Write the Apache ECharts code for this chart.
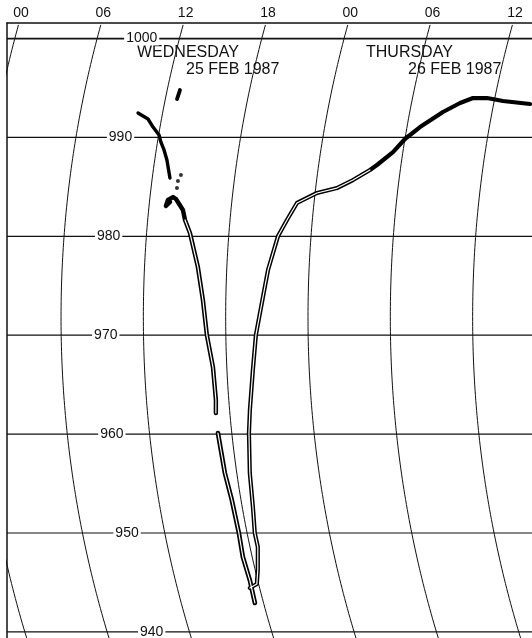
<!DOCTYPE html>
<html>
<head>
<meta charset="utf-8">
<title>Barograph 25-26 Feb 1987</title>
<script src="https://cdn.jsdelivr.net/npm/echarts@6/dist/echarts.min.js"></script>
<style>
html, body { margin: 0; padding: 0; background: #fff; }
#chart { width: 532px; height: 638px; }
</style>
</head>
<body>
<div id="chart"></div>
<script>
// hours counted from 00 on Wednesday 25 Feb 1987
const hourTicks = [0, 6, 12, 18, 24, 30, 36]
const hourLabels = ['00', '06', '12', '18', '00', '06', '12']
const isobars = [1000, 990, 980, 970, 960, 950, 940]

const traceStart = [[10.21, 992.47], [11.02, 991.86], [11.49, 991.05], [12.03, 990.24], [12.25, 989.53],
    [12.57, 988.73], [12.89, 987.71], [13.29, 985.89]]
const traceBlip = [[12.93, 994.79], [12.85, 993.88]]
const traceDots = [[14.06, 986.2], [13.9, 985.59], [13.89, 984.88]]
const traceFall = [[13.5, 983.47], [13.23, 983.06], [13.33, 983.67], [13.68, 983.97], [13.91, 983.77],
    [14.5, 982.66], [14.72, 981.65], [15.16, 980.33], [15.89, 976.89], [16.33, 973.56], [16.62, 970.0],
    [16.99, 966.78], [17.06, 963.45], [16.98, 962.14]]
const traceFallLow = [[16.99, 960.11], [17.13, 956.07], [17.33, 953.34], [17.4, 950.0], [17.32, 947.57],
    [17.43, 945.24], [17.37, 942.92]]
const traceRise = [[17.29, 944.43], [17.87, 944.84], [18.19, 946.26], [18.57, 948.58], [18.56, 950.0],
    [18.78, 952.63], [18.95, 956.07], [19.25, 960.11], [19.48, 962.44], [19.89, 966.48], [20.19, 970.0],
    [20.63, 973.26], [21.01, 976.59], [21.59, 980.0], [22.15, 981.65], [22.76, 983.37], [24.14, 984.38],
    [25.55, 984.88], [26.65, 985.69], [27.79, 986.7], [28.25, 987.21], [29.28, 988.52], [30.0, 989.84],
    [30.95, 991.05], [32.42, 992.57], [33.54, 993.48], [34.41, 993.98], [35.43, 993.98], [36.64, 993.68],
    [38.65, 993.38]]

// card geometry
const PX_PER_HOUR = 13.72
const PX_PER_HPA = 9.89
const PEN_ARM = 1096
const ARM_PIVOT_HPA = 971.8
const TOP_HPA = 1001.57
const BOTTOM_HPA = 939.38
const FIRST_HOUR = -0.875
const LAST_HOUR = 37.39
const LABEL_HOUR = 9.25
const FONT = '"Liberation Sans", Arial, Helvetica, sans-serif'

function bow(hpa) {
    const dy = (hpa - ARM_PIVOT_HPA) * PX_PER_HPA
    return PEN_ARM - Math.sqrt(PEN_ARM * PEN_ARM - dy * dy)
}
// time lines are arcs swept by the pen arm, so shift each hour by pressure
function arcShift(hpa) {
    return (bow(hpa) - bow(TOP_HPA)) / PX_PER_HOUR
}
const onCard = pts => pts.map(([h, p]) => [h + arcShift(p), p])

const arcSeries = hourTicks.map(h => {
    const pts = []
    for (let p = BOTTOM_HPA - 1; p <= TOP_HPA + 0.01; p += 0.5) pts.push([h + arcShift(p), p])
    return {
        type: 'line', data: pts, symbol: 'none', silent: true, clip: true, z: 1,
        lineStyle: { color: '#111', width: 1 }
    }
})

const pen = (data, width, color, z) => ({
    type: 'line', data: onCard(data), symbol: 'none', silent: true, clip: true, z: z,
    lineStyle: { color: color, width: width, cap: 'round', join: 'round' }
})

const chart = echarts.init(document.getElementById('chart'))
chart.setOption({
    animation: false,
    grid: { left: 7, right: 0, top: 23, bottom: 0, show: false },
    xAxis: {
        type: 'value', min: FIRST_HOUR, max: LAST_HOUR, position: 'top',
        axisLine: { show: true, onZero: false, lineStyle: { color: '#111', width: 1.5 } },
        axisTick: { show: false }, axisLabel: { show: false }, splitLine: { show: false }
    },
    yAxis: {
        type: 'value', min: BOTTOM_HPA, max: TOP_HPA,
        axisLine: { show: true, onZero: false, lineStyle: { color: '#111', width: 1.5 } },
        axisTick: { show: false }, axisLabel: { show: false }, splitLine: { show: false }
    },
    graphic: [
        { type: 'text', left: 137, top: 45, style: { text: 'WEDNESDAY', font: '16px ' + FONT, fill: '#111' } },
        { type: 'text', left: 186, top: 62, style: { text: '25 FEB 1987', font: '16px ' + FONT, fill: '#111' } },
        { type: 'text', left: 366, top: 45, style: { text: 'THURSDAY', font: '16px ' + FONT, fill: '#111' } },
        { type: 'text', left: 408, top: 62, style: { text: '26 FEB 1987', font: '16px ' + FONT, fill: '#111' } }
    ],
    series: [
        ...arcSeries,
        {
            type: 'custom', silent: true, z: 2,
            data: isobars.map(p => [LABEL_HOUR, p]),
            renderItem: (params, api) => {
                const p = api.value(1)
                const at = api.coord([api.value(0) + arcShift(p), p])
                const cs = params.coordSys
                return {
                    type: 'group',
                    children: [
                        {
                            type: 'line',
                            shape: { x1: cs.x, y1: at[1], x2: cs.x + cs.width, y2: at[1] },
                            style: { stroke: '#111', lineWidth: p === 1000 ? 1.8 : 1.2 }
                        },
                        {
                            type: 'text', x: at[0], y: at[1],
                            style: {
                                text: String(p), font: '14px ' + FONT, fill: '#111',
                                align: 'center', verticalAlign: 'middle',
                                backgroundColor: '#fff', padding: [0, 2]
                            }
                        }
                    ]
                }
            }
        },
        {
            type: 'custom', silent: true, z: 2,
            data: hourTicks.map((h, i) => [h, TOP_HPA, i]),
            renderItem: (params, api) => {
                const at = api.coord([api.value(0), api.value(1)])
                return {
                    type: 'text', x: at[0] + 2, y: at[1] - 10,
                    style: {
                        text: hourLabels[api.value(2)], font: '14px ' + FONT, fill: '#111',
                        align: 'center', verticalAlign: 'middle'
                    }
                }
            }
        },
        pen(traceStart, 3.4, '#000', 5),
        pen(traceBlip, 3.8, '#000', 5),
        pen(traceFall, 4.4, '#000', 5),
        pen(traceFallLow, 4.6, '#000', 5),
        pen(traceRise, 4.2, '#000', 5),
        pen(traceFall.slice(6), 1.2, '#fff', 6),
        pen(traceFallLow, 1.2, '#fff', 6),
        pen(traceRise.slice(0, 20), 1.2, '#fff', 6),
        {
            type: 'scatter', data: onCard(traceDots), symbolSize: 4, silent: true, z: 5,
            itemStyle: { color: '#000' }
        }
    ]
})
</script>
</body>
</html>
